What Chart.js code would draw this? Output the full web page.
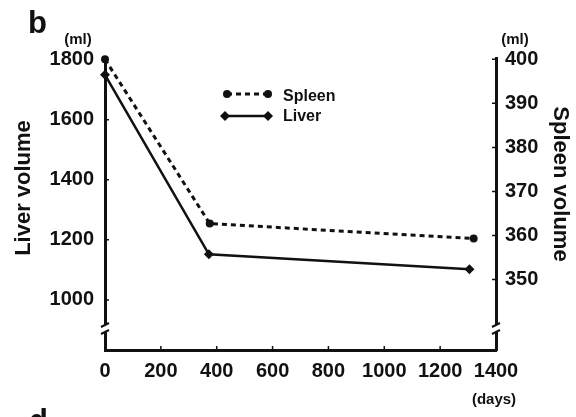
<!DOCTYPE html>
<html>
<head>
<meta charset="utf-8">
<script src="https://cdn.jsdelivr.net/npm/chart.js@4"></script>
<style>
  body { margin: 0; background: #fff; }
  #wrap { width: 576px; height: 417px; }
</style>
</head>
<body>
<div id="wrap"><canvas id="grafica"></canvas></div>
<script>
// datos
const dias_liver = [0, 372, 1305];
const liver = [1750, 1152, 1102];
const dias_spleen = [0, 375, 1320];
const spleen = [400, 362.7, 359.3];

const ticks_x = [0, 200, 400, 600, 800, 1000, 1200, 1400];
const ticks_liver = [1000, 1200, 1400, 1600, 1800];
const ticks_spleen = [350, 360, 370, 380, 390, 400];

const FONT = '"Liberation Sans", Arial, sans-serif';
const NEGRO = '#111';

// textos, leyenda, marcas de corte y ticks hacia dentro
const extras = {
  id: 'extras',
  afterDraw(chart) {
    const c = chart.ctx;
    const sx = chart.scales.x, sy = chart.scales.y, sy2 = chart.scales.y2;
    const area = chart.chartArea;
    c.save();
    c.fillStyle = NEGRO;
    c.strokeStyle = NEGRO;

    // ticks hacia dentro
    c.lineWidth = 1.5;
    c.beginPath();
    ticks_x.slice(1, -1).forEach(v => {
      const px = sx.getPixelForValue(v);
      c.moveTo(px, area.bottom); c.lineTo(px, area.bottom - 4);
    });
    ticks_liver.forEach(v => {
      const py = sy.getPixelForValue(v);
      c.moveTo(area.left, py); c.lineTo(area.left + 4, py);
    });
    ticks_spleen.forEach(v => {
      const py = sy2.getPixelForValue(v);
      c.moveTo(area.right, py); c.lineTo(area.right - 4, py);
    });
    c.stroke();

    // cortes de eje
    [area.left, area.right].forEach(x0 => {
      c.fillStyle = '#fff';
      c.fillRect(x0 - 3, 325, 6, 7);
      c.fillStyle = NEGRO;
      c.lineWidth = 2;
      c.beginPath();
      c.moveTo(x0 - 4, 327); c.lineTo(x0 + 4, 323);
      c.moveTo(x0 - 4, 334); c.lineTo(x0 + 4, 330);
      c.stroke();
    });

    // leyenda
    c.lineWidth = 3;
    c.setLineDash([5, 4]);
    c.beginPath(); c.moveTo(227, 94); c.lineTo(268, 94); c.stroke();
    c.setLineDash([]);
    [227, 268].forEach(x => { c.beginPath(); c.arc(x, 94, 4, 0, Math.PI * 2); c.fill(); });
    c.lineWidth = 2.5;
    c.beginPath(); c.moveTo(225, 116); c.lineTo(268, 116); c.stroke();
    [225, 268].forEach(x => {
      c.beginPath();
      c.moveTo(x, 111); c.lineTo(x + 5, 116); c.lineTo(x, 121); c.lineTo(x - 5, 116);
      c.closePath(); c.fill();
    });
    c.font = 'bold 16px ' + FONT;
    c.textAlign = 'left';
    c.textBaseline = 'middle';
    c.fillText('Spleen', 283, 97);
    c.fillText('Liver', 283, 117);

    // unidades y letras
    c.font = 'bold 15px ' + FONT;
    c.textAlign = 'center';
    c.fillText('(ml)', 78, 40);
    c.fillText('(ml)', 515, 40);
    c.fillText('(days)', 494, 400);

    c.font = 'bold 31px ' + FONT;
    c.textAlign = 'left';
    c.textBaseline = 'alphabetic';
    c.fillText('b', 28, 33);
    c.fillText('d', 29, 431);

    // titulos de ejes
    c.font = 'bold 22px ' + FONT;
    c.textAlign = 'center';
    c.textBaseline = 'middle';
    c.save();
    c.translate(24, 188);
    c.rotate(-Math.PI / 2);
    c.fillText('Liver volume', 0, 0);
    c.restore();
    c.save();
    c.translate(560, 184);
    c.rotate(Math.PI / 2);
    c.fillText('Spleen volume', 0, 0);
    c.restore();

    c.restore();
  }
};

const fuente_ticks = { family: FONT, size: 20, weight: 'bold' };

const ctx = document.getElementById('grafica');
new Chart(ctx, {
  type: 'line',
  data: {
    datasets: [{
      label: 'Spleen',
      data: dias_spleen.map((d, i) => ({x: d, y: spleen[i]})),
      yAxisID: 'y2',
      borderColor: NEGRO,
      backgroundColor: NEGRO,
      borderWidth: 3,
      borderDash: [5, 4],
      pointStyle: 'circle',
      pointRadius: 4,
      pointBorderWidth: 0,
      clip: false
    },
    {
      label: 'Liver',
      data: dias_liver.map((d, i) => ({x: d, y: liver[i]})),
      yAxisID: 'y',
      borderColor: NEGRO,
      backgroundColor: NEGRO,
      borderWidth: 2.5,
      pointStyle: 'rectRot',
      pointRadius: 5,
      pointBorderWidth: 0,
      clip: false
    }]
  },
  options: {
    responsive: true,
    maintainAspectRatio: false,
    animation: false,
    layout: { padding: { top: 58, left: 0, right: 0, bottom: 0 } },
    plugins: { legend: { display: false }, tooltip: { enabled: false } },
    scales: {
      x: {
        type: 'linear',
        position: 'bottom',
        min: 0,
        max: 1400,
        afterBuildTicks: s => { s.ticks = ticks_x.map(v => ({value: v})); },
        afterFit: s => { s.height = 67; },
        grid: { display: false, drawTicks: false },
        border: { display: true, width: 3, color: NEGRO },
        ticks: { color: NEGRO, padding: 9, maxRotation: 0, autoSkip: false, font: fuente_ticks, callback: v => String(v) }
      },
      y: {
        type: 'linear',
        position: 'left',
        min: 833,
        max: 1806,
        afterBuildTicks: s => { s.ticks = ticks_liver.map(v => ({value: v})); },
        afterFit: s => { s.width = 105; },
        grid: { display: false, drawTicks: false },
        border: { display: true, width: 3, color: NEGRO },
        ticks: { color: NEGRO, padding: 11, font: fuente_ticks, callback: v => String(v) }
      },
      y2: {
        type: 'linear',
        position: 'right',
        min: 334,
        max: 400.3,
        afterBuildTicks: s => { s.ticks = ticks_spleen.map(v => ({value: v})); },
        afterFit: s => { s.width = 80; },
        grid: { display: false, drawTicks: false },
        border: { display: true, width: 3, color: NEGRO },
        ticks: { color: NEGRO, padding: 9, font: fuente_ticks, callback: v => String(v) }
      }
    }
  },
  plugins: [extras]
});
</script>
</body>
</html>
